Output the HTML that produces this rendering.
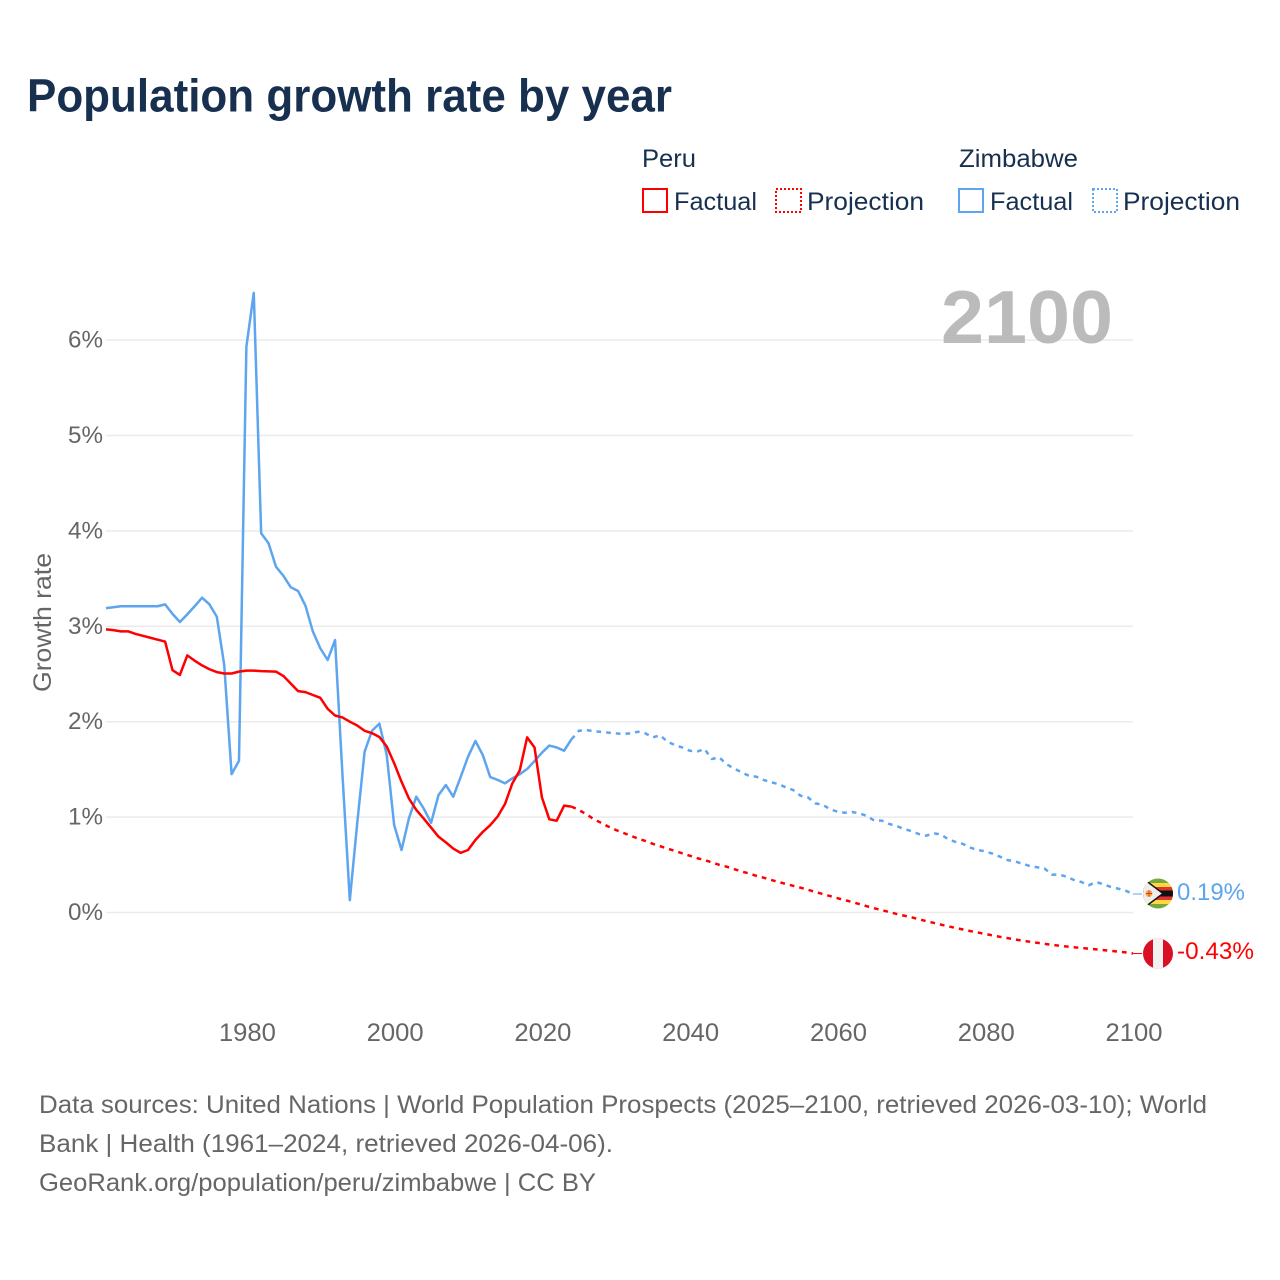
<!DOCTYPE html>
<html lang="en">
<head>
<meta charset="utf-8">
<title>Population growth rate by year</title>
<style>
html,body{margin:0;padding:0;background:#fff;}
svg{display:block;font-family:"Liberation Sans",sans-serif;}
</style>
</head>
<body>
<svg id="chart" xmlns="http://www.w3.org/2000/svg" width="1280" height="1280" viewBox="0 0 1280 1280">
  <rect x="0" y="0" width="1280" height="1280" fill="#fff"/>
  <text x="27" y="111.500" font-size="46" font-weight="700" fill="#18304f" textLength="645" lengthAdjust="spacingAndGlyphs">Population growth rate by year</text>

  <g font-size="25" fill="#18304f">
    <text x="642" y="167" textLength="54" lengthAdjust="spacingAndGlyphs">Peru</text>
    <rect x="643" y="189" width="24" height="23" fill="none" stroke="#ff0000" stroke-width="2"/>
    <text x="674" y="210" textLength="83" lengthAdjust="spacingAndGlyphs">Factual</text>
    <rect x="776" y="189" width="25" height="23" fill="none" stroke="#ff0000" stroke-width="2" stroke-dasharray="2 2"/>
    <text x="807" y="210" textLength="117" lengthAdjust="spacingAndGlyphs">Projection</text>
    <text x="959" y="167" textLength="119" lengthAdjust="spacingAndGlyphs">Zimbabwe</text>
    <rect x="959" y="189" width="24" height="23" fill="none" stroke="#5da5ee" stroke-width="2"/>
    <text x="990" y="210" textLength="83" lengthAdjust="spacingAndGlyphs">Factual</text>
    <rect x="1093" y="189" width="24" height="23" fill="none" stroke="#5da5ee" stroke-width="2" stroke-dasharray="2 2"/>
    <text x="1123" y="210" textLength="117" lengthAdjust="spacingAndGlyphs">Projection</text>
  </g>

  <g id="grid"></g>
  <text x="1113" y="343" text-anchor="end" font-size="75" font-weight="700" fill="#bbbbbb" textLength="172" lengthAdjust="spacingAndGlyphs">2100</text>
  <g id="yticks" font-size="24.500" fill="#666666" text-anchor="end"></g>
  <g id="xticks" font-size="25" fill="#666666" text-anchor="middle"></g>
  <text transform="translate(51,622.500) rotate(-90)" text-anchor="middle" font-size="25" fill="#666666" textLength="139" lengthAdjust="spacingAndGlyphs">Growth rate</text>
  <g id="series"></g>

  <defs>
    <clipPath id="zw-clip"><circle cx="1158" cy="893.500" r="15"/></clipPath>
    <clipPath id="pe-clip"><circle cx="1158" cy="953.500" r="15"/></clipPath>
  </defs>
  <g clip-path="url(#zw-clip)">
    <rect x="1143" y="878" width="30" height="31" fill="#75a843"/>
    <rect x="1143" y="883" width="30" height="21" fill="#ffd83d"/>
    <rect x="1143" y="887" width="30" height="13" fill="#e0332e"/>
    <rect x="1143" y="890.500" width="30" height="6" fill="#111"/>
    <path d="M1141 877 L1163 893.500 L1141 910 Z" fill="#eeeeee" stroke="#111" stroke-width="1.500"/>
    <circle cx="1149" cy="893.500" r="3.500" fill="#f5b041"/>
    <rect x="1148.500" y="890.500" width="1" height="6" fill="#d9352e"/>
    <rect x="1146" y="893" width="6" height="1" fill="#d9352e"/>
  </g>
  <g clip-path="url(#pe-clip)">
    <rect x="1143" y="938" width="30" height="31" fill="#d91023"/>
    <rect x="1153" y="938" width="10" height="31" fill="#f1f1f1"/>
  </g>
  <text x="1177" y="900" font-size="24.500" fill="#5da5ee" textLength="68" lengthAdjust="spacingAndGlyphs">0.19%</text>
  <text x="1177" y="959" font-size="24.500" fill="#ff0000" textLength="77" lengthAdjust="spacingAndGlyphs">-0.43%</text>

  <g font-size="25" fill="#666666">
    <text x="39" y="1113" textLength="1168" lengthAdjust="spacingAndGlyphs">Data sources: United Nations | World Population Prospects (2025–2100, retrieved 2026-03-10); World</text>
    <text x="39" y="1152" textLength="574" lengthAdjust="spacingAndGlyphs">Bank | Health (1961–2024, retrieved 2026-04-06).</text>
    <text x="39" y="1191" textLength="557" lengthAdjust="spacingAndGlyphs">GeoRank.org/population/peru/zimbabwe | CC BY</text>
  </g>
</svg>
<script>
var yTickValues = [0, 1, 2, 3, 4, 5, 6];
var xTickYears = [1980, 2000, 2020, 2040, 2060, 2080, 2100];
var factualStartYear = 1961;
var projectionStartYear = 2024;

var peruFactual = [2.968,2.96,2.947,2.947,2.92,2.90,2.88,2.86,2.84,2.54,2.49,2.695,2.64,2.59,2.55,2.52,2.505,2.505,2.525,2.535,2.535,2.53,2.528,2.525,2.48,2.40,2.32,2.31,2.28,2.25,2.135,2.065,2.045,2.00,1.96,1.905,1.88,1.84,1.74,1.565,1.37,1.195,1.075,0.985,0.89,0.795,0.735,0.67,0.625,0.655,0.76,0.845,0.915,1.005,1.137,1.354,1.49,1.836,1.73,1.207,0.977,0.962,1.12,1.11];
var peruProjection = [1.11,1.075,1.03,0.98,0.94,0.90,0.865,0.835,0.805,0.775,0.75,0.72,0.695,0.67,0.645,0.62,0.595,0.57,0.55,0.525,0.5,0.48,0.455,0.43,0.41,0.385,0.365,0.342,0.32,0.30,0.28,0.26,0.238,0.216,0.194,0.172,0.15,0.13,0.11,0.087,0.065,0.044,0.025,0.005,-0.015,-0.033,-0.05,-0.07,-0.09,-0.108,-0.127,-0.145,-0.162,-0.178,-0.195,-0.21,-0.225,-0.24,-0.255,-0.268,-0.282,-0.295,-0.306,-0.317,-0.328,-0.338,-0.348,-0.356,-0.364,-0.372,-0.379,-0.386,-0.394,-0.402,-0.41,-0.418,-0.43];
var zimbabweFactual = [3.19,3.20,3.21,3.21,3.21,3.21,3.21,3.21,3.23,3.13,3.045,3.125,3.21,3.30,3.23,3.10,2.595,1.45,1.59,5.93,6.495,3.975,3.87,3.625,3.53,3.41,3.37,3.215,2.945,2.77,2.647,2.856,1.45,0.13,0.935,1.685,1.905,1.98,1.65,0.917,0.655,0.987,1.214,1.09,0.94,1.23,1.336,1.214,1.42,1.633,1.798,1.65,1.42,1.39,1.354,1.406,1.45,1.504,1.588,1.675,1.75,1.73,1.696,1.815];
var zimbabweProjection = [1.815,1.905,1.913,1.90,1.893,1.885,1.878,1.871,1.878,1.895,1.878,1.836,1.857,1.79,1.755,1.73,1.696,1.686,1.714,1.609,1.627,1.553,1.51,1.47,1.434,1.424,1.389,1.365,1.347,1.312,1.284,1.224,1.207,1.144,1.13,1.082,1.057,1.046,1.053,1.039,1.011,0.963,0.963,0.928,0.907,0.875,0.854,0.823,0.805,0.83,0.819,0.767,0.739,0.718,0.68,0.655,0.641,0.617,0.585,0.55,0.536,0.512,0.488,0.474,0.463,0.397,0.397,0.376,0.341,0.32,0.285,0.32,0.296,0.268,0.25,0.229,0.194];

var plotLeft = 106, plotRight = 1133, y0px = 912.5, pxPerPct = 95.4, yearMin = 1961, yearMax = 2100;
function xScale(year) { return plotLeft + (year - yearMin) * (plotRight - plotLeft) / (yearMax - yearMin); }
function yScale(v) { return y0px - v * pxPerPct; }
var NS = 'http://www.w3.org/2000/svg';

var gridG = document.getElementById('grid');
var yG = document.getElementById('yticks');
yTickValues.forEach(function (v) {
  var l = document.createElementNS(NS, 'line');
  
  
  l.setAttribute('x1', plotLeft);
  l.setAttribute('x2', plotRight);
  l.setAttribute('y1', yScale(v));
  l.setAttribute('y2', yScale(v));
  l.setAttribute('stroke', '#ebebeb');
  l.setAttribute('stroke-width', '1.5');
  gridG.appendChild(l);
  var t = document.createElementNS(NS, 'text');
  
  
  t.setAttribute('x', 103);
  t.setAttribute('y', yScale(v) + 7.5);
  t.setAttribute('textLength', 35);
  t.setAttribute('lengthAdjust', 'spacingAndGlyphs');
  t.textContent = v + '%';
  yG.appendChild(t);
});

var xG = document.getElementById('xticks');
xTickYears.forEach(function (yr) {
  var t = document.createElementNS(NS, 'text');
  
  
  t.setAttribute('x', xScale(yr) + 1);
  t.setAttribute('y', 1041);
  t.setAttribute('textLength', 57);
  t.setAttribute('lengthAdjust', 'spacingAndGlyphs');
  t.textContent = yr;
  xG.appendChild(t);
});

function drawLine(values, startYear, color, dashed, name) {
  var pts = values.map(function (v, i) {
    return xScale(startYear + i).toFixed(2) + ',' + yScale(v).toFixed(2);
  });
  var p = document.createElementNS(NS, 'polyline');
  
  
  p.setAttribute('points', pts.join(' '));
  p.setAttribute('fill', 'none');
  p.setAttribute('stroke', color);
  p.setAttribute('stroke-width', '2.5');
  p.setAttribute('stroke-linejoin', 'round');
  if (dashed) p.setAttribute('stroke-dasharray', '4.7 5');
  document.getElementById('series').appendChild(p);
}
function drawConnector(value, color, name) {
  var l = document.createElementNS(NS, 'line');
  
  
  l.setAttribute('x1', plotRight);
  l.setAttribute('x2', plotRight + 9);
  l.setAttribute('y1', yScale(value));
  l.setAttribute('y2', yScale(value));
  l.setAttribute('stroke', color);
  l.setAttribute('stroke-width', '1');
  document.getElementById('series').appendChild(l);
}
drawLine(zimbabweProjection, projectionStartYear, '#5da5ee', true, 'zimbabwe-projection-line');
drawLine(peruProjection, projectionStartYear, '#ff0000', true, 'peru-projection-line');
drawLine(zimbabweFactual, factualStartYear, '#5da5ee', false, 'zimbabwe-factual-line');
drawLine(peruFactual, factualStartYear, '#ff0000', false, 'peru-factual-line');
drawConnector(zimbabweProjection[zimbabweProjection.length - 1], '#5da5ee', 'zimbabwe-end-connector');
drawConnector(peruProjection[peruProjection.length - 1], '#ff0000', 'peru-end-connector');
</script>
</body>
</html>
